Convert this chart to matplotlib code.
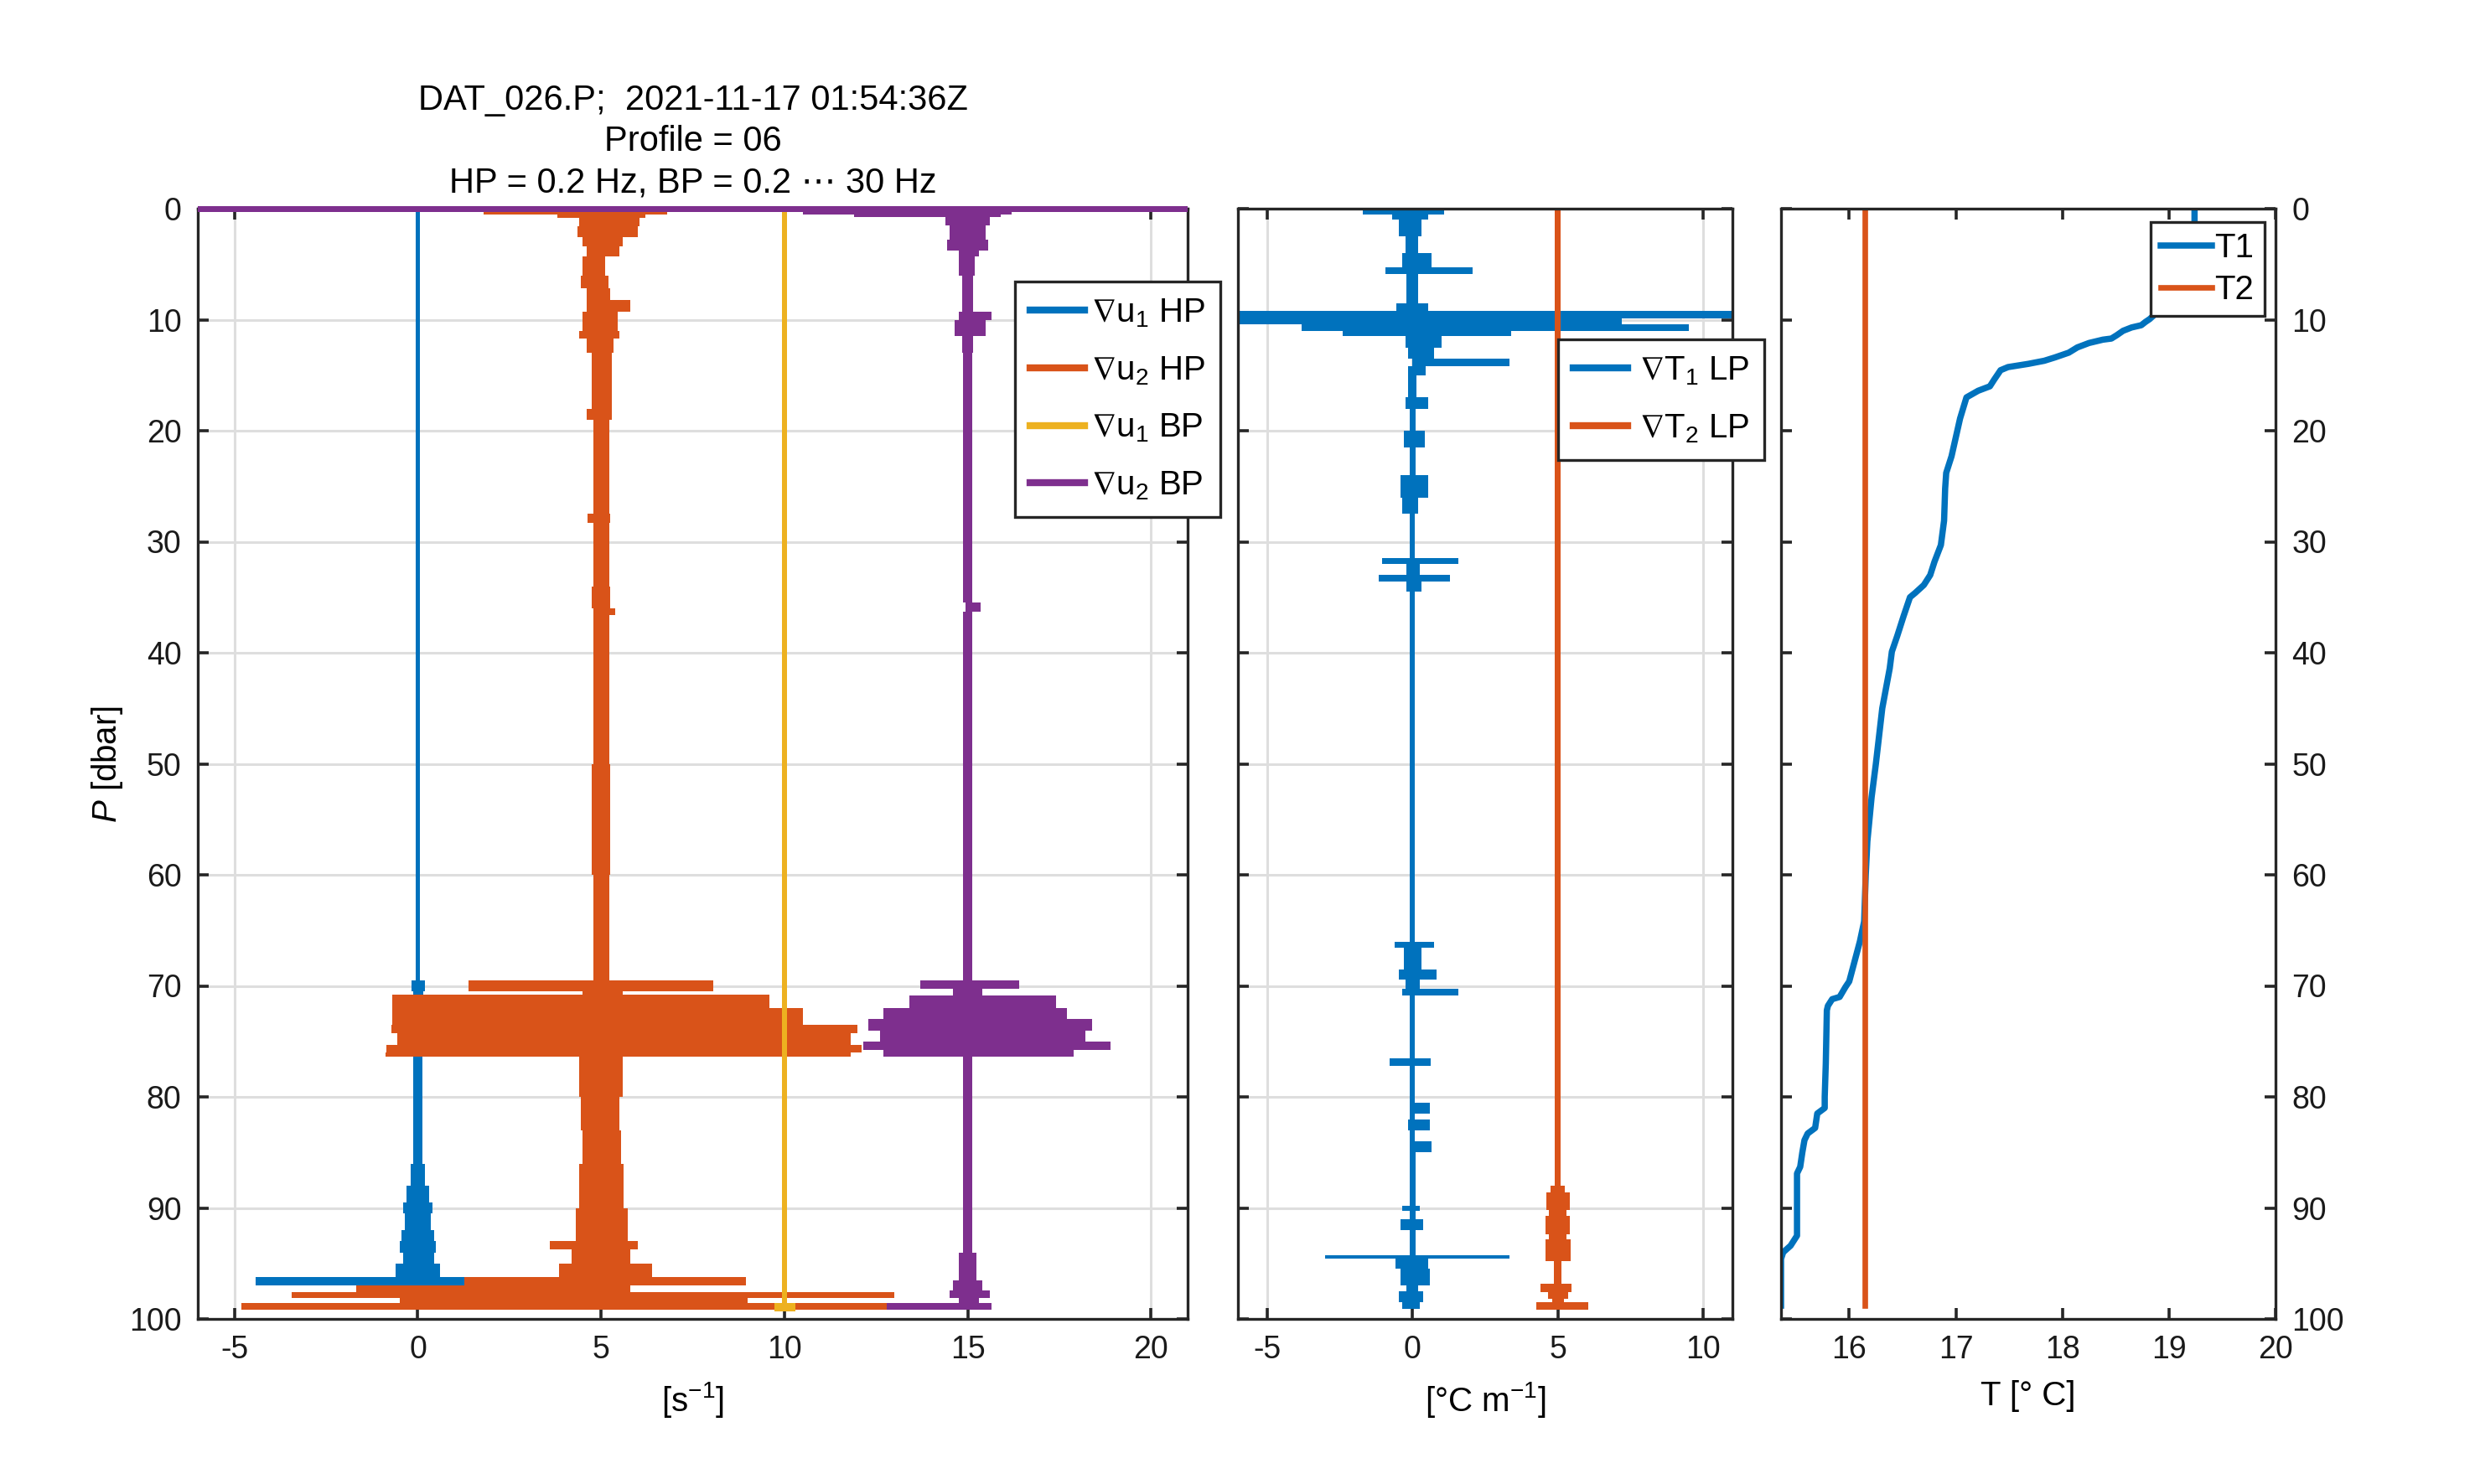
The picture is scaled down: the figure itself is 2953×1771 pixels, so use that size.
import numpy as np
import matplotlib
matplotlib.use('Agg')
import matplotlib.pyplot as plt
from matplotlib.lines import Line2D

plt.rcParams['font.family'] = ['Liberation Sans', 'DejaVu Sans']
plt.rcParams['mathtext.fontset'] = 'custom'
plt.rcParams['mathtext.rm'] = 'Liberation Sans'
plt.rcParams['mathtext.it'] = 'Liberation Sans:italic'
plt.rcParams['mathtext.default'] = 'regular'
plt.rcParams['mathtext.fallback'] = 'stixsans'
plt.rcParams['axes.unicode_minus'] = False

# colours (matlab default order)
c_blue, c_orange, c_yellow, c_purple = '#0072BD', '#D95319', '#EDB120', '#7E2F8E'
c_axis = '#262626'

# ---- shear probes: pressure edges [dbar] and left/right extent of the trace per interval
u1hp_p = [0, 69.5, 70.5, 76.3, 86, 88, 89.5, 90.5, 92, 93, 94, 95, 96.2, 96.95, 97.55, 98.1, 98.5]
u1hp_lo = [-0.06, -0.17, -0.12, -0.13, -0.2, -0.3, -0.4, -0.35, -0.45, -0.5, -0.4, -0.6, -4.43, -0.9, -1.0, -0.5]
u1hp_hi = [0.06, 0.2, 0.14, 0.13, 0.2, 0.3, 0.4, 0.35, 0.45, 0.5, 0.45, 0.6, 1.28, 0.5, 0.9, 0.4]

u2hp_p = [0, 0.5, 0.8, 1.6, 2.6, 3.4, 4.3, 6.0, 7.2, 8.2, 9.3, 11.0, 11.7, 13, 18, 19, 27.5, 28.3, 34, 36,
          36.6, 50, 60, 69.5, 70.5, 70.8, 72.0, 73.5, 74.3, 75.3, 76.0, 76.4, 80, 83, 86, 90, 93, 93.7, 95,
          96.2, 96.95, 97.55, 98.1, 98.6, 99.2]
u2hp_lo = [1.8, 3.8, 4.4, 4.35, 4.5, 4.6, 4.5, 4.45, 4.6, 4.6, 4.5, 4.4, 4.6, 4.75, 4.6, 4.8, 4.62, 4.8, 4.75,
           4.8, 4.78, 4.75, 4.8, 1.38, 4.5, -0.69, -0.69, -0.72, -0.55, -0.85, -0.89, 4.4, 4.45, 4.5, 4.4,
           4.3, 3.6, 4.2, 3.86, 1.28, -1.67, -3.44, -0.5, -4.82]
u2hp_hi = [6.8, 6.2, 6.05, 6.0, 5.6, 5.5, 5.1, 5.2, 5.25, 5.8, 5.45, 5.5, 5.35, 5.3, 5.3, 5.22, 5.25, 5.22, 5.25,
           5.38, 5.22, 5.25, 5.22, 8.07, 5.6, 9.6, 10.5, 12.0, 11.8, 12.1, 11.8, 5.6, 5.5, 5.55, 5.62, 5.72,
           6.0, 5.8, 6.4, 8.96, 5.8, 13.0, 9.0, 12.9]

u1bp_p = [0, 98.6, 99.3]
u1bp_lo = [9.93, 9.72]
u1bp_hi = [10.07, 10.3]

u2bp_p = [-0.2, 0.3, 0.5, 0.75, 1.5, 2.8, 3.8, 4.3, 6.0, 9.3, 10.0, 11.5, 13, 35.5, 36.3, 69.5, 70.3, 70.9,
          72.0, 73.0, 74.0, 75.0, 75.8, 76.4, 94, 96.5, 97.4, 98.1, 98.6, 99.2]
u2bp_lo = [-6, 10.5, 11.9, 14.4, 14.5, 14.45, 14.75, 14.75, 14.85, 14.75, 14.65, 14.85, 14.88, 14.95, 14.88,
           13.7, 14.6, 13.4, 12.7, 12.3, 12.6, 12.15, 12.7, 14.87, 14.75, 14.6, 14.5, 14.75, 12.8]
u2bp_hi = [21, 16.2, 15.9, 15.6, 15.5, 15.55, 15.3, 15.2, 15.15, 15.65, 15.5, 15.15, 15.12, 15.35, 15.12,
           16.4, 15.4, 17.4, 17.7, 18.4, 18.2, 18.9, 17.9, 15.13, 15.25, 15.4, 15.6, 15.3, 15.65]

# ---- thermistor gradients
gt1_p = [0, 0.5, 1, 2.5, 4, 5.3, 5.9, 8.5, 9.2, 9.9, 10.4, 11.0, 11.5, 12.5, 13.5, 14.2, 15, 17, 18, 20,
         21.5, 24, 26, 27.5, 31.5, 32, 33, 33.6, 34.5, 66, 66.6, 68.5, 69.4, 70.3, 70.9, 76.5, 77.2, 80.5,
         81.5, 82, 83, 84, 85, 89.8, 90.3, 91, 92, 94.3, 94.6, 95.5, 97, 97.5, 98.5, 99.1]
gt1_lo = [-1.7, -0.7, -0.47, -0.25, -0.36, -0.92, -0.2, -0.55, -8, -6.5, -3.8, -2.4, -0.25, -0.15, 0.0,
          -0.15, -0.15, -0.25, -0.1, -0.3, -0.1, -0.4, -0.35, -0.09, -1.03, -0.2, -1.15, -0.2, -0.09, -0.6,
          -0.3, -0.47, -0.25, -0.36, -0.09, -0.78, -0.09, -0.09, -0.09, -0.15, -0.09, -0.1, -0.1, -0.35,
          -0.1, -0.4, -0.1, -3.0, -0.58, -0.42, -0.2, -0.47, -0.36]
gt1_hi = [1.1, 0.54, 0.31, 0.2, 0.65, 2.06, 0.2, 0.55, 12, 7.2, 9.5, 3.4, 1.0, 0.75, 3.35, 0.45, 0.15, 0.55,
          0.1, 0.42, 0.1, 0.55, 0.2, 0.09, 1.58, 0.25, 1.3, 0.3, 0.09, 0.74, 0.3, 0.82, 0.25, 1.58, 0.09,
          0.62, 0.09, 0.6, 0.09, 0.6, 0.09, 0.67, 0.1, 0.25, 0.1, 0.37, 0.1, 3.35, 0.54, 0.6, 0.2, 0.37,
          0.26]

gt2_p = [0, 88, 88.6, 90.2, 90.7, 92.4, 92.8, 94.8, 96.8, 97.6, 98.2, 98.5, 99.2]
gt2_lo = [4.9, 4.75, 4.6, 4.7, 4.58, 4.7, 4.58, 4.87, 4.4, 4.65, 4.8, 4.25]
gt2_hi = [5.1, 5.25, 5.42, 5.3, 5.42, 5.3, 5.45, 5.13, 5.48, 5.35, 5.2, 6.05]

# ---- temperature profiles
t1_p = [0, 1.2, 9.0, 9.5, 9.94, 10.2, 10.5, 10.7, 11.0, 11.4, 11.7, 11.8, 12.1, 12.5, 12.97, 13.4, 13.7,
        13.98, 14.27, 14.55, 15.4, 16.0, 16.4, 17.0, 18.9, 22.3, 23.8, 25.2, 28.1, 30.3, 31.8, 33.0, 33.9,
        34.6, 35.0, 36.7, 38.5, 39.9, 41.4, 45, 50, 53, 57, 60, 64.2, 66, 67.8, 69.6, 70.1, 71.0, 71.2,
        71.8, 72.2, 77.0, 80.0, 81.0, 81.5, 82.8, 83.3, 83.9, 85.0, 86.3, 86.9, 92.5, 93.4, 94.0, 94.6, 98.8]
t1_T = [19.24, 19.24, 18.92, 18.87, 18.82, 18.78, 18.74, 18.65, 18.57, 18.51, 18.46, 18.38, 18.25, 18.14,
        18.06, 17.93, 17.83, 17.68, 17.49, 17.42, 17.36, 17.32, 17.21, 17.10, 17.04, 16.96, 16.91, 16.90,
        16.89, 16.86, 16.80, 16.76, 16.70, 16.62, 16.57, 16.51, 16.45, 16.40, 16.38, 16.31, 16.25, 16.21,
        16.17, 16.155, 16.14, 16.10, 16.05, 16.0, 15.965, 15.91, 15.84, 15.80, 15.79, 15.78, 15.77, 15.77,
        15.70, 15.68, 15.61, 15.58, 15.56, 15.54, 15.51, 15.51, 15.45, 15.38, 15.36, 15.36]
t2_p = [0, 98.8]
t2_T = [16.15, 16.15]

title_txt = 'DAT_026.P;  2021-11-17 01:54:36Z\nProfile = 06\nHP = 0.2 Hz, BP = 0.2 \u22ef 30 Hz'


def draw_band(ax, p, lo, hi, color, **kw):
    y = np.repeat(p, 2)[1:-1]
    ax.fill_betweenx(y, np.repeat(lo, 2), np.repeat(hi, 2), color=color, lw=0, **kw)


def style_axis(ax, grid=True):
    ax.set_ylim(100, 0)
    ax.set_yticks(np.arange(0, 101, 10))
    for s in ax.spines.values():
        s.set_color(c_axis)
        s.set_linewidth(1.2)
    ax.tick_params(which='both', direction='in', length=4.8, width=1.3, colors=c_axis,
                   labelcolor='#1a1a1a', labelsize=13.5, top=True, right=True, pad=7)
    if grid:
        ax.grid(True, color='#dedede', lw=1.1)
        ax.set_axisbelow(True)


def add_legend(ax, handles, labels, x, y, hlen=1.6, **kw):
    leg = ax.legend(handles, labels, loc='upper left', bbox_to_anchor=(x / W, 1 - y / H),
                    bbox_transform=fig.transFigure, fontsize=14.5, handlelength=hlen,
                    borderaxespad=0, fancybox=False, framealpha=1, edgecolor=c_axis, **kw)
    leg.get_frame().set_linewidth(1.2)
    return leg


W, H = 2953, 1771
fig = plt.figure(figsize=(W / 200, H / 200), dpi=200)
bot = (H - 1574) / H
hgt = 1325 / H
ax1 = fig.add_axes([236 / W, bot, 1181 / W, hgt])
ax2 = fig.add_axes([1477 / W, bot, 590 / W, hgt])
ax3 = fig.add_axes([2125 / W, bot, 590 / W, hgt])

# panel 1: shear
draw_band(ax1, u1hp_p, u1hp_lo, u1hp_hi, c_blue)
draw_band(ax1, u2hp_p, u2hp_lo, u2hp_hi, c_orange)
draw_band(ax1, u1bp_p, u1bp_lo, u1bp_hi, c_yellow)
draw_band(ax1, u2bp_p, u2bp_lo, u2bp_hi, c_purple, clip_on=False, zorder=3)
ax1.set_xlim(-6, 21)
ax1.set_xticks([-5, 0, 5, 10, 15, 20])
style_axis(ax1)
ax1.set_xlabel('[s$^{-1}$]', fontsize=14.5)
ax1.set_ylabel(r'$\mathit{P}$ [dbar]', fontsize=14.5)
ax1.yaxis.set_label_coords(-0.074, 0.5)
ax1.xaxis.set_label_coords(0.5, -0.055)
ax1.set_title(title_txt, fontsize=15, linespacing=1.3, pad=7)
h1 = [Line2D([], [], color=c, lw=3) for c in (c_blue, c_orange, c_yellow, c_purple)]
l1 = [r'$\nabla$u$_1$ HP', r'$\nabla$u$_2$ HP', r'$\nabla$u$_1$ BP', r'$\nabla$u$_2$ BP']
add_legend(ax1, h1, l1, 1211, 336, handletextpad=0.2, labelspacing=0.75, borderpad=0.45)

# panel 2: temperature gradient
draw_band(ax2, gt1_p, gt1_lo, gt1_hi, c_blue)
draw_band(ax2, gt2_p, gt2_lo, gt2_hi, c_orange)
ax2.set_xlim(-6, 11)
ax2.set_xticks([-5, 0, 5, 10])
style_axis(ax2)
ax2.tick_params(labelleft=False)
ax2.set_xlabel('[\u00b0C m$^{-1}$]', fontsize=14.5)
ax2.xaxis.set_label_coords(0.5, -0.055)
h2 = [Line2D([], [], color=c, lw=3) for c in (c_blue, c_orange)]
l2 = [r'$\nabla$T$_1$ LP', r'$\nabla$T$_2$ LP']
add_legend(ax2, h2, l2, 1859, 405, handletextpad=0.35, labelspacing=0.75, borderpad=0.45)

# panel 3: temperature
ax3.plot(t1_T, t1_p, color=c_blue, lw=2.7, label='T1')
ax3.plot(t2_T, t2_p, color=c_orange, lw=2.4, label='T2')
ax3.set_xlim(min(t1_T), 20)
ax3.set_xticks([16, 17, 18, 19, 20])
style_axis(ax3, grid=False)
ax3.tick_params(labelleft=False, labelright=True)
ax3.set_xlabel('T [\u00b0 C]', fontsize=14.5)
ax3.xaxis.set_label_coords(0.5, -0.055)
h3, l3 = ax3.get_legend_handles_labels()
add_legend(ax3, h3, l3, 2566, 265, hlen=1.5, handletextpad=0.1, labelspacing=0.3, borderpad=0.3)

fig.savefig('out.png', dpi=200, facecolor='white')
